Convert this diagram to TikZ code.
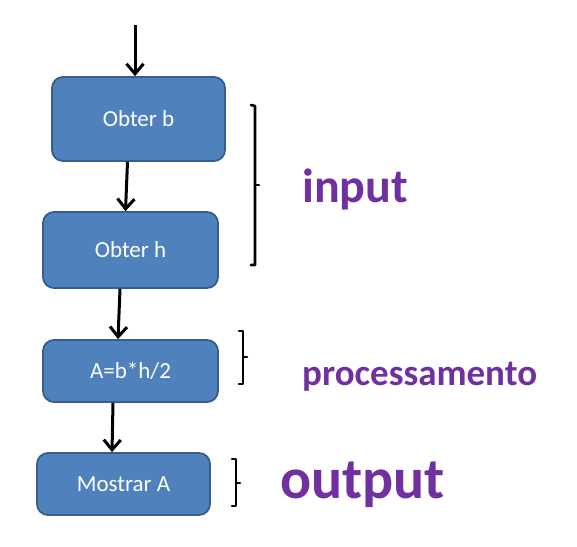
\documentclass[tikz,border=0pt]{standalone}
\usepackage{fontspec}
\setmainfont{Carlito}
\usetikzlibrary{arrows.meta}
\definecolor{boxblue}{HTML}{4F81BD}
\definecolor{boxedge}{HTML}{385D8A}
\definecolor{lblpurple}{HTML}{7030A0}
\tikzset{
  flowbox/.style={draw=boxedge, fill=boxblue, line width=1.8pt, rounded corners=11pt,
    text=white, font=\fontsize{23}{27}\selectfont, inner sep=0pt},
  flowarr/.style={line width=3pt, -{Straight Barb[length=10pt,width=17pt]}},
  brk/.style={line width=2.6pt, line join=round, line cap=round},
  lbl/.style={text=lblpurple, anchor=base west, inner sep=0pt}
}
\begin{document}
\begin{tikzpicture}[x=1pt,y=-1pt]
\useasboundingbox (0,0) rectangle (577,546);
\node[flowbox, minimum width=173pt, minimum height=84pt] (b) at (138.5,119) {Obter b};
\node[flowbox, minimum width=175pt, minimum height=76pt] (h) at (130.5,250) {Obter h};
\node[flowbox, minimum width=175pt, minimum height=62pt] (p) at (130.5,371) {A=b*h/2};
\node[flowbox, minimum width=173pt, minimum height=62pt] (o) at (123.5,484) {Mostrar A};
\coordinate (start) at (135,25);
\draw[flowarr] (start) -- (start |- b.north);
\draw[flowarr] ([xshift=-11pt]b.south) -- ([xshift=-5pt]h.north);
\draw[flowarr] ([xshift=-10.5pt]h.south) -- ([xshift=-12.5pt]p.north);
\draw[flowarr] ([xshift=-17.5pt]p.south) -- ([xshift=-11.5pt]o.north);
% brackets
\draw[brk] (251,105) -- (255,106) -- (255,265) -- (251,265);
\draw[brk] (255,185) -- (259,185);
\draw[brk] (239,331) -- (243,331) -- (243,384) -- (239,384);
\draw[brk] (243,357) -- (247,357);
\draw[brk] (232,459) -- (236,459) -- (236,506) -- (232,506);
\draw[brk] (236,483) -- (240,483);
\node[lbl, font=\fontsize{48}{50}\selectfont\bfseries] (in) at (302,202) {input};
\node[lbl, font=\fontsize{37}{40}\selectfont\bfseries] (pr) at (302,385) {processamento};
\node[lbl, font=\fontsize{58}{60}\selectfont\bfseries] (out) at (280,498) {output};
\end{tikzpicture}
\end{document}
